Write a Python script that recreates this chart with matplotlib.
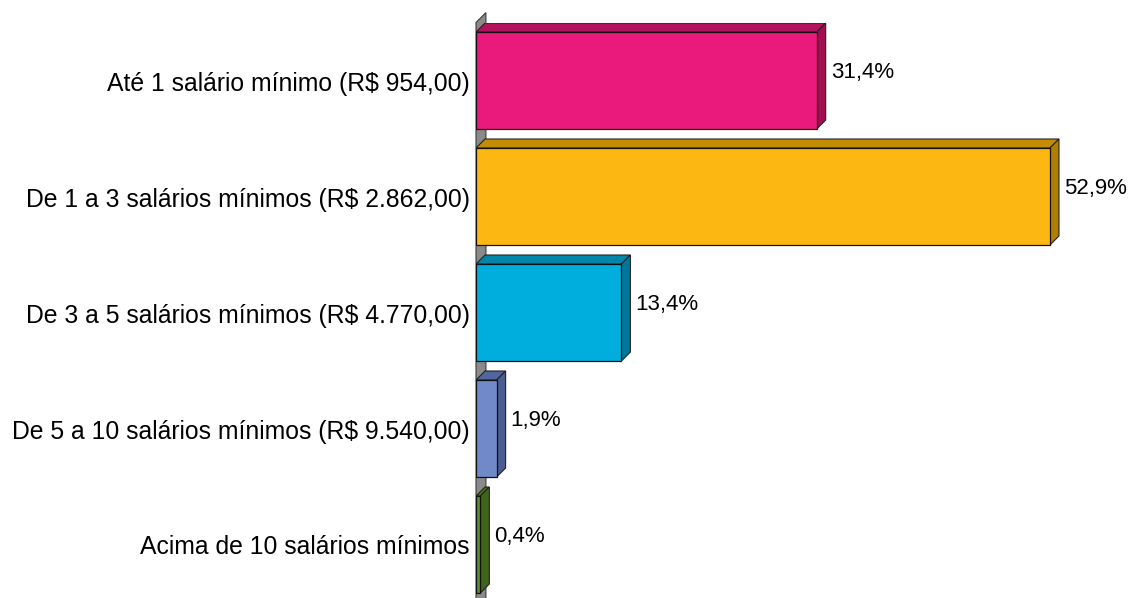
import matplotlib.pyplot as plt
from matplotlib.patches import Polygon

plt.rcParams['font.family'] = ['Liberation Sans', 'DejaVu Sans']

categories = [
    'Até 1 salário mínimo (R$ 954,00)',
    'De 1 a 3 salários mínimos (R$ 2.862,00)',
    'De 3 a 5 salários mínimos (R$ 4.770,00)',
    'De 5 a 10 salários mínimos (R$ 9.540,00)',
    'Acima de 10 salários mínimos',
]
values = [31.4, 52.9, 13.4, 1.9, 0.4]
labels = ['31,4%', '52,9%', '13,4%', '1,9%', '0,4%']
front_colors = ['#EA1A7C', '#FDB713', '#00AEDE', '#7089C8', '#5A8E2B']
top_colors = ['#B3135E', '#C48C00', '#0086AA', '#51659E', '#46711F']
side_colors = ['#A0104F', '#B07E00', '#00789A', '#4A5C90', '#3E6519']

W, H = 1135, 598
fig = plt.figure(figsize=(W / 100, H / 100), dpi=100)
ax_left, ax_top, ax_bottom = 476, 22.5, 602.5
ax = fig.add_axes([ax_left / W, (H - ax_bottom) / H, (W - ax_left) / W, (ax_bottom - ax_top) / H])
xmax = (W - ax_left) / 10.85
ax.set_xlim(0, xmax)
ax.set_ylim(len(values) - 0.5, -0.5)
ax.axis('off')

# depth of the 3d effect in data units
px_x = 10.85
px_y = (ax_bottom - ax_top) / len(values)
dx = 9 / px_x
dy = 9 / px_y
bar_h = 97 / 116

# gray side wall
wall = Polygon([(0, -0.5), (dx * 1.1, -0.5 - dy * 1.1), (dx * 1.1, 5), (0, 5)],
               closed=True, facecolor='#8A8A8A', edgecolor='#3A3A3A', lw=0.8,
               clip_on=False, zorder=1)
ax.add_patch(wall)

for i, v in enumerate(values):
    y0 = i - bar_h / 2
    y1 = i + bar_h / 2
    top = Polygon([(0, y0), (dx, y0 - dy), (v + dx, y0 - dy), (v, y0)],
                  closed=True, facecolor=top_colors[i], edgecolor='#222222', lw=0.8, zorder=3)
    side = Polygon([(v, y0), (v + dx, y0 - dy), (v + dx, y1 - dy), (v, y1)],
                   closed=True, facecolor=side_colors[i], edgecolor='#222222', lw=0.8, zorder=3)
    ax.add_patch(top)
    ax.add_patch(side)
    ax.barh(i, v, height=bar_h, left=0, color=front_colors[i], edgecolor='#111111',
            linewidth=0.9, zorder=4)
    ax.text(v + dx + 5 / px_x, i - 8 / px_y, labels[i], ha='left', va='center',
            fontsize=16, color='black', zorder=5)
    ax.text(-6 / px_x, i + 3 / px_y, categories[i], ha='right', va='center',
            fontsize=17.8, color='black', clip_on=False)

fig.savefig('out.png', dpi=100)
